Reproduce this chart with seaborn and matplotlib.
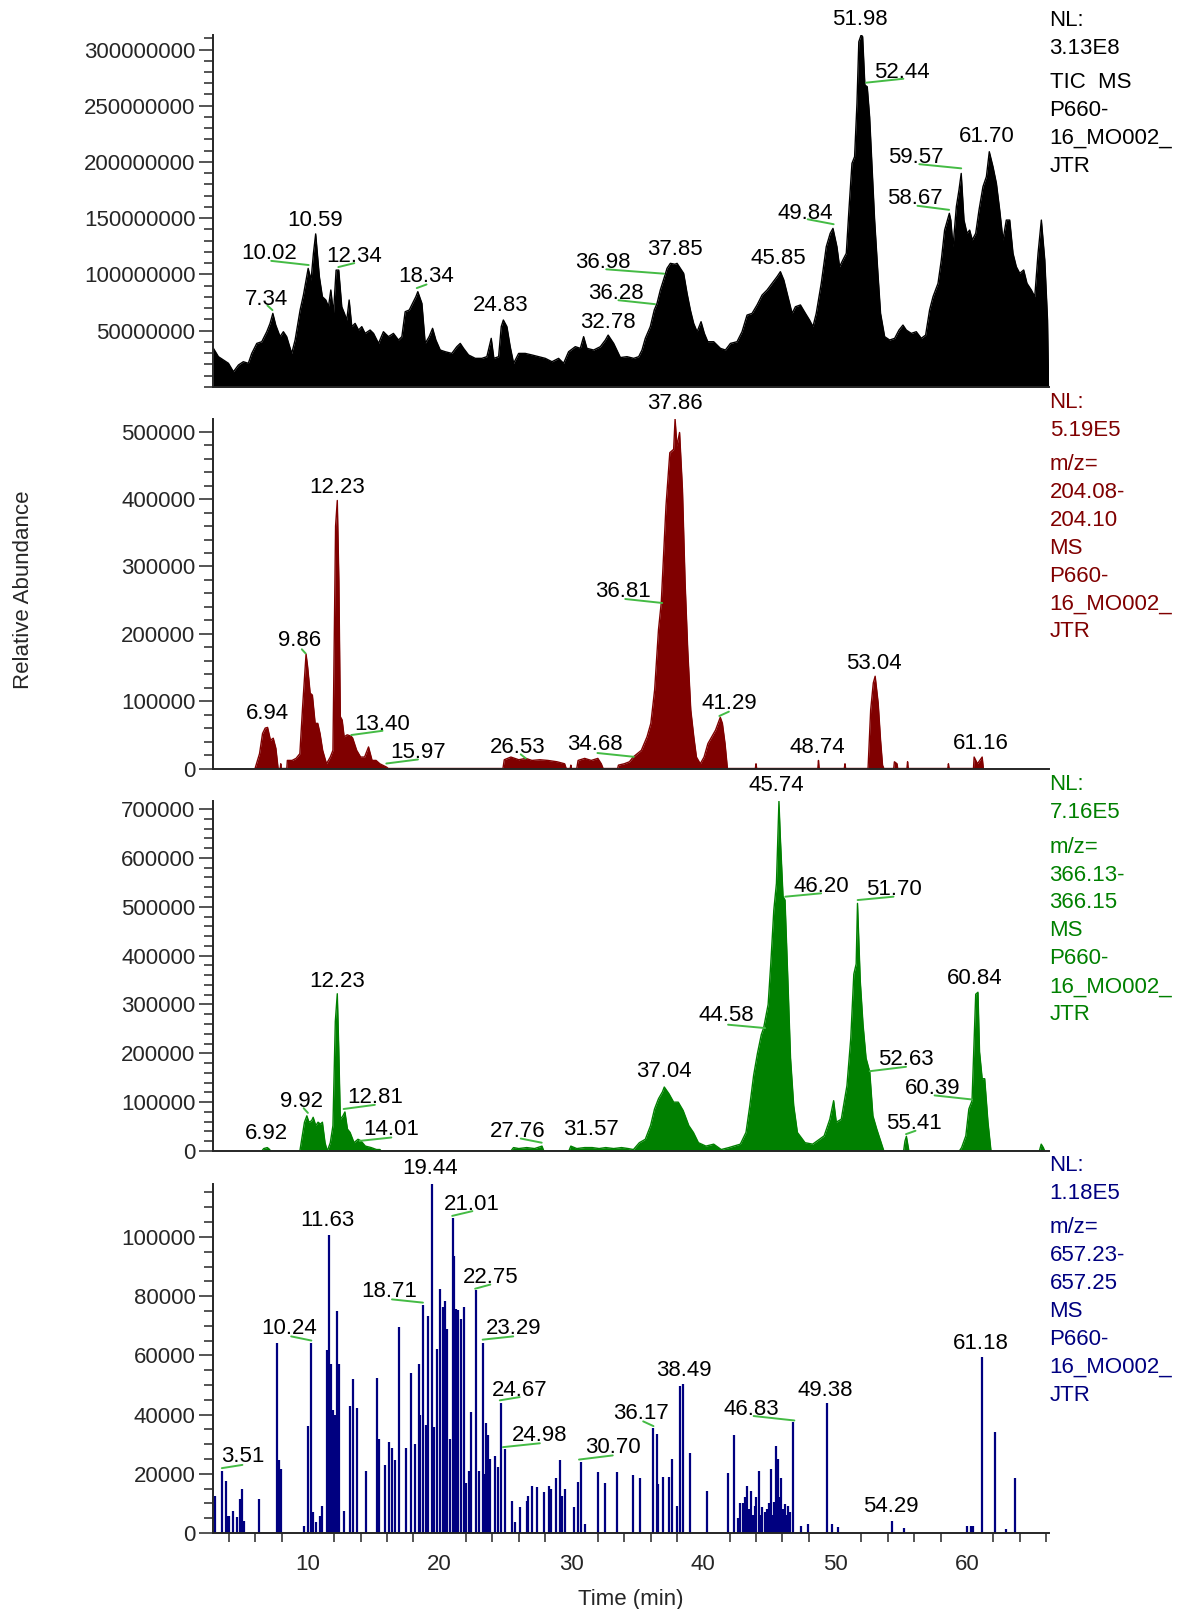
import matplotlib
matplotlib.use("Agg")
import numpy as np
import matplotlib.pyplot as plt
import matplotlib.transforms as mtransforms
import seaborn as sns
from matplotlib.ticker import MultipleLocator, FixedLocator, FuncFormatter

sns.set_style("ticks")
plt.rcParams['font.family'] = ['Liberation Sans', 'DejaVu Sans']

#%% datos leidos del cromatograma
# TIC (intensidad en millones)
tic_t = [2.83, 3.21, 3.59, 3.97, 4.35, 4.73, 5.10, 5.48, 5.74, 6.12, 6.50, 6.88, 7.13, 7.34, 7.56, 7.89,
         8.14, 8.39, 8.77, 9.03, 9.41, 9.66, 10.02, 10.24, 10.42, 10.59, 10.87, 11.10, 11.36, 11.56,
         11.74, 11.94, 12.14, 12.34, 12.57, 12.77, 12.95, 13.13, 13.33, 13.58, 13.84, 14.09, 14.34,
         14.72, 14.98, 15.36, 15.73, 16.11, 16.49, 16.87, 17.13, 17.38, 17.69, 17.94, 18.19, 18.34,
         18.65, 18.90, 19.20, 19.46, 19.71, 20.04, 20.42, 20.92, 21.30, 21.56, 21.81, 22.19, 22.70,
         23.20, 23.58, 23.91, 24.11, 24.47, 24.67, 24.83, 25.10, 25.35, 25.61, 25.99, 26.49, 27.00,
         27.50, 28.01, 28.52, 29.02, 29.40, 29.78, 30.29, 30.67, 30.92, 31.17, 31.68, 32.19, 32.57,
         32.78, 33.20, 33.71, 34.21, 34.72, 35.10, 35.35, 35.60, 35.98, 36.28, 36.49, 36.74, 36.98,
         37.25, 37.50, 37.85, 38.01, 38.26, 38.51, 38.77, 39.02, 39.27, 39.53, 39.83, 40.08, 40.34,
         40.79, 41.30, 41.68, 42.06, 42.56, 42.94, 43.32, 43.70, 44.08, 44.46, 44.84, 45.22, 45.60,
         45.85, 46.11, 46.36, 46.74, 46.99, 47.37, 47.75, 48.06, 48.32, 48.57, 48.95, 49.33, 49.63,
         49.84, 50.14, 50.34, 50.59, 50.85, 51.05, 51.28, 51.48, 51.66, 51.80, 51.98, 52.09, 52.26,
         52.44, 52.62, 52.79, 53.00, 53.25, 53.45, 53.76, 54.14, 54.52, 54.85, 55.15, 55.40, 55.78,
         56.16, 56.54, 56.87, 57.17, 57.43, 57.81, 58.06, 58.31, 58.67, 58.78, 58.95, 59.20, 59.40,
         59.57, 59.78, 60.01, 60.21, 60.41, 60.67, 60.92, 61.22, 61.48, 61.70, 61.98, 62.24, 62.49,
         62.74, 62.99, 63.25, 63.50, 63.75, 64.01, 64.31, 64.56, 64.89, 65.15, 65.40, 65.65, 65.91,
         66.12, 66.20]
tic_m = [34.2, 26.8, 23.8, 20.9, 13.4, 19.4, 22.3, 20.9, 29.7, 38.6, 40.1, 49, 56.4, 65.3, 54.9, 44.6,
         49, 44.6, 29.7, 41.6, 68.3, 81.6, 105.3, 95, 118.7, 136, 97.9, 80.1, 77.2, 71.2,
         86.1, 65.3, 103.8, 103.8, 71.2, 65.3, 59.4, 77.2, 53.5, 56.4, 50.5, 53.5, 47.5,
         50.5, 47.5, 38.6, 49, 44.6, 47.5, 41.6, 44.6, 66.8, 68.3, 74.2, 80.1, 84.6,
         74.2, 38.6, 44.6, 52, 41.6, 32.7, 31.2, 29.7, 35.7, 38.6, 34.2, 28.3, 25.3,
         25.3, 26.8, 43.1, 25.3, 26.8, 53.5, 59.4, 53.5, 35.7, 20.9, 29.7, 29.7, 28.3,
         26.8, 25.3, 22.3, 25.3, 20.9, 31.2, 35.7, 34.2, 44.6, 34.2, 32.7, 35.7, 41.6,
         46, 38.6, 26, 26.8, 25.3, 26.8, 32.7, 43.1, 53.5, 68.3, 74.2, 86.1, 95,
         105.4, 109.8, 109, 109.8, 105.4, 100.9, 83.1, 68.3, 56.4, 49, 57.9, 47.5, 40.1,
         40.1, 34.2, 32.7, 38.6, 40.1, 49, 63.8, 65.3, 72.8, 81.6, 86.1, 92, 98,
         102.4, 95, 83.1, 65.3, 71.2, 72.8, 65.3, 59.4, 53.5, 65.3, 92, 124.6, 136.5,
         140.9, 124.6, 106.8, 112.8, 118.7, 157.2, 198.7, 204.7, 252.1, 306.9, 313, 311.4, 268.4,
         266.9, 240.2, 198.7, 148.3, 100.9, 65.3, 44.6, 41.6, 43.1, 50.5, 54.9, 50.5, 47.5,
         49, 43.1, 46, 68.3, 80.1, 92, 112.8, 139.4, 154.3, 148.3, 124.6, 160.2, 175,
         189.8, 148.3, 136.5, 139.4, 130.6, 136.5, 157.2, 178, 186.9, 209.1, 195.8, 180.9, 157.2,
         130.6, 148.3, 148.3, 118.7, 106.8, 100.9, 103.9, 92, 86.1, 80.1, 118.7, 148.3, 112.8,
         59.4, 0]

# m/z 204.08-204.10 (intensidad en miles)
mz204_t = [5.99, 6.33, 6.56, 6.76, 6.94, 7.16, 7.37, 7.57, 7.74,
           7.90, 7.94, 7.98,
           8.40, 8.44, 8.80, 9.10, 9.39, 9.60, 9.86, 9.98, 10.17, 10.34, 10.55, 10.75, 10.92, 11.12,
           11.41, 11.70, 11.90, 12.10, 12.23, 12.35, 12.46, 12.60, 12.75, 12.98, 13.28, 13.40, 13.70,
           14.00, 14.30, 14.60, 14.87, 15.17, 15.46, 15.97, 16.10,
           24.80, 24.90, 25.40, 26.00, 26.53, 27.00, 27.60, 28.20, 28.90, 29.48, 29.60,
           29.90, 29.95, 30.00,
           30.40, 30.50, 31.00, 31.50, 32.00, 32.26, 32.40,
           33.50, 33.56, 34.00, 34.40, 34.68, 35.30, 35.73, 36.02, 36.31, 36.60, 36.81, 37.17, 37.46,
           37.75, 37.86, 38.00, 38.20, 38.42, 38.62, 38.82, 39.05, 39.28, 39.48, 39.77, 40.06, 40.35,
           40.64, 40.93, 41.29, 41.45, 41.65, 41.83,
           43.95, 44.00, 44.05,
           48.69, 48.74, 48.79,
           50.70, 50.75, 50.80,
           52.50, 52.70, 52.90, 53.04, 53.27, 53.45, 53.60, 53.70,
           54.45, 54.50, 54.70, 54.75,
           55.45, 55.50, 55.55,
           58.55, 58.60, 58.65,
           60.50, 60.55, 60.80, 61.16, 61.25]
mz204_k = [0, 22, 52, 60, 61, 42, 45, 30, 0,
           0, 7, 0,
           0, 12, 12, 15, 22, 92, 170, 151, 112, 109, 67, 67, 52, 27,
           7, 17, 27, 360, 398, 278, 77, 72, 47, 50, 48, 45, 27,
           17, 17, 32, 12, 12, 7, 2, 0,
           0, 13, 17, 13, 15, 12, 13, 12, 10, 7, 0,
           0, 5, 0,
           0, 12, 15, 12, 15, 7, 0,
           0, 5, 7, 10, 17, 27, 47, 67, 117, 206, 246, 390, 469,
           474, 519, 479, 499, 414, 276, 176, 87, 47, 17, 7, 17, 37,
           47, 57, 76, 67, 37, 0,
           0, 7, 0,
           0, 12, 0,
           0, 7, 0,
           0, 87, 127, 137, 97, 42, 5, 0,
           0, 10, 7, 0,
           0, 10, 0,
           0, 7, 0,
           0, 17, 7, 17, 0]

# m/z 366.13-366.15 (intensidad en miles)
mz366_t = [6.50, 6.65, 6.92, 7.10, 7.15,
           9.39, 9.53, 9.74, 9.92, 10.08, 10.28, 10.40, 10.60, 10.77, 10.95, 11.10, 11.30, 11.47,
           11.70, 11.90, 12.08, 12.23, 12.34, 12.46, 12.66, 12.81, 13.00, 13.20, 13.50, 13.80, 14.01,
           14.36, 14.80, 15.20, 15.47, 15.55,
           25.40, 25.60, 26.00, 26.60, 27.20, 27.76, 27.90,
           29.80, 29.95, 30.40, 31.00, 31.57, 32.10, 32.60, 33.20, 33.80, 34.30, 34.70, 35.15, 35.60,
           36.00, 36.30, 36.60, 36.90, 37.04, 37.40, 37.75, 38.10, 38.47, 38.90, 39.25, 39.63, 40.20,
           40.79, 41.36, 41.94, 42.81, 43.24, 43.53, 43.82, 44.11, 44.40, 44.58, 44.92, 45.12, 45.35,
           45.55, 45.74, 45.84, 46.05, 46.20, 46.42, 46.62, 46.86, 47.14, 47.72, 48.30, 49.17, 49.60,
           49.89, 50.09, 50.47, 50.90, 51.19, 51.42, 51.60, 51.70, 51.91, 52.12, 52.35, 52.63, 52.87,
           53.16, 53.50, 53.70,
           55.20, 55.30, 55.41, 55.60,
           59.43, 59.60, 59.92, 60.15, 60.39, 60.67, 60.84, 60.96, 61.16, 61.35, 61.60, 61.83,
           65.50, 65.64, 65.80, 65.90]
mz366_k = [0, 5, 7, 3, 0,
           0, 24, 59, 72, 59, 62, 69, 52, 59, 55, 59, 17, 0,
           17, 52, 265, 322, 210, 65, 72, 80, 45, 38, 17, 24, 21,
           10, 7, 3, 3, 0,
           0, 7, 5, 7, 5, 10, 0,
           0, 10, 5, 7, 7, 5, 7, 5, 7, 5, 3, 17, 24,
           52, 86, 107, 121, 131, 117, 100, 100, 83, 52, 38, 17, 10,
           14, 3, 7, 14, 38, 93, 155, 200, 238, 252, 300, 383, 493,
           548, 716, 645, 521, 514, 348, 190, 93, 38, 17, 14, 31, 65,
           103, 59, 65, 134, 231, 362, 383, 507, 348, 259, 190, 162, 72,
           45, 17, 0,
           0, 20, 30, 0,
           0, 7, 31, 86, 103, 321, 325, 203, 148, 148, 59, 0,
           0, 14, 7, 0]

# m/z 657.23-657.25 (intensidad en miles), picos tipo aguja
mz657_t = [2.97, 3.51, 3.75, 3.90, 4.05, 4.33, 4.62, 4.85, 5.00, 5.14, 6.30, 7.66, 7.80, 7.97,
           9.68, 9.97, 10.24, 10.40, 10.60, 10.92, 11.07, 11.45, 11.63, 11.78, 11.90, 12.02, 12.19,
           12.34, 12.72, 13.23, 13.44, 13.73, 14.39, 15.26, 15.40, 15.84, 16.18, 16.41, 16.64, 16.90,
           17.42, 17.86, 18.15, 18.41, 18.52, 18.71, 18.93, 19.13, 19.44, 19.59, 19.82, 20.00, 20.23,
           20.40, 20.58, 20.75, 21.01, 21.10, 21.24, 21.39, 21.65, 21.88, 22.02, 22.19, 22.40, 22.75,
           22.98, 23.29, 23.41, 23.50, 23.64, 23.81, 24.16, 24.42, 24.67, 24.98, 25.52, 25.75, 26.07,
           26.59, 26.73, 27.02, 27.40, 27.95, 28.26, 28.41, 28.84, 29.13, 29.27, 29.48, 30.20, 30.49,
           30.70, 31.05, 32.00, 32.55, 33.47, 34.66, 35.21, 36.17, 36.45, 36.60, 36.97, 37.38, 37.61,
           38.04, 38.27, 38.49, 38.99, 40.29, 41.88, 42.32, 42.60, 42.81, 43.00, 43.15, 43.33, 43.45,
           43.62, 43.75, 43.90, 44.00, 44.20, 44.35, 44.49, 44.65, 44.83, 44.95, 45.12, 45.25, 45.35,
           45.55, 45.70, 45.85, 45.93, 46.05, 46.22, 46.30, 46.42, 46.60, 46.83, 47.40, 47.95, 49.38,
           49.80, 50.20, 54.29, 55.20, 60.00, 60.30, 60.50, 61.18, 62.17, 62.95, 63.68]
mz657_k = [12.6, 21, 17.4, 5.9, 5.9, 7.5, 5.3, 11.5, 14.9, 4.2, 11.5, 64.3, 24.5, 21.6,
           2.5, 36, 64.3, 7, 3.6, 5.9, 9.2, 61.9, 100.8, 57.2, 41.4, 39.7, 75,
           57.2, 7.5, 43, 51.9, 42.2, 21, 52.3, 31.8, 23, 30.7, 28.7, 24.5, 69.6,
           28.7, 54, 30.1, 57.2, 39.7, 77.1, 36.5, 73.3, 118, 35.7, 62, 82.3, 76.3,
           78.2, 69, 31.8, 106.4, 93.6, 75.8, 75.2, 72.4, 76.3, 16.8, 21, 40.8, 82,
           21, 64.3, 20, 37.2, 33.1, 25, 25.9, 22.2, 44, 28.2, 10.9, 3.6, 8.7,
           10.9, 12.6, 16, 15.4, 13.8, 16, 14.9, 18.5, 24.5, 12.6, 14.9, 8.7, 17.1,
           23.9, 3, 20.7, 16.8, 20.7, 19.6, 18.5, 35.4, 33.5, 16.6, 19, 19, 25,
           9.2, 49.8, 50.4, 27, 14.3, 20.3, 33.1, 5, 10.1, 10, 12, 16, 8,
           14.3, 6, 9, 12, 21, 6, 8.7, 7, 8.1, 10, 21.6, 6, 10.4,
           29.5, 25, 12, 18.5, 8, 9.8, 6, 9.2, 7, 37.4, 2.3, 3, 44,
           3, 1.9, 4.2, 1.6, 2.5, 2.5, 2.5, 59.4, 34, 1.4, 18.5]

# etiquetas de picos (tiempo de retencion) por panel
tic_labels = ["7.34", "10.02", "10.59", "12.34", "18.34", "24.83", "32.78", "36.28", "36.98",
              "37.85", "45.85", "49.84", "51.98", "52.44", "58.67", "59.57", "61.70"]
mz204_labels = ["6.94", "9.86", "12.23", "13.40", "15.97", "26.53", "34.68", "36.81", "37.86",
                "41.29", "48.74", "53.04", "61.16"]
mz366_labels = ["6.92", "9.92", "12.23", "12.81", "14.01", "27.76", "31.57", "37.04", "44.58",
                "45.74", "46.20", "51.70", "52.63", "55.41", "60.39", "60.84"]
mz657_labels = ["3.51", "10.24", "11.63", "18.71", "19.44", "21.01", "22.75", "23.29", "24.67",
                "24.98", "30.70", "36.17", "38.49", "46.83", "49.38", "54.29", "61.18"]

# texto a la derecha de cada panel
tic_info = ["NL:", "3.13E8", "TIC  MS", "P660-", "16_MO002_", "JTR"]
mz204_info = ["NL:", "5.19E5", "m/z=", "204.08-", "204.10", "MS", "P660-", "16_MO002_", "JTR"]
mz366_info = ["NL:", "7.16E5", "m/z=", "366.13-", "366.15", "MS", "P660-", "16_MO002_", "JTR"]
mz657_info = ["NL:", "1.18E5", "m/z=", "657.23-", "657.25", "MS", "P660-", "16_MO002_", "JTR"]

#%% posiciones de las etiquetas (texto x, texto y, linea guia)
tic_pos = [(6.85, 80.7, (6.93, 72.3, 7.31, 68.2)), (7.08, 121, (7.22, 112, 10.06, 108.3)),
           (10.58, 151, None), (13.5, 119, (12.31, 106.5, 13.52, 110)),
           (19.0, 100.6, (18.26, 87.8, 19.0, 91)), (24.62, 74.7, None), (32.74, 60, None),
           (33.4, 86, (33.56, 77, 36.34, 73.5)), (32.4, 113, (32.64, 104.5, 37.03, 100.6)),
           (37.84, 125, None), (45.7, 117, None), (47.72, 157, (47.92, 149, 49.89, 144.6)),
           (51.91, 329, None), (55.09, 282, (52.35, 270.5, 55.18, 274)),
           (56.05, 170, (56.25, 161, 58.65, 157.4)), (56.16, 207, (56.39, 198, 59.57, 194.3)),
           (61.54, 225.6, None)]
mz204_pos = [(6.93, 86, None), (9.39, 194, (9.54, 177, 9.82, 171)), (12.19, 422, None),
             (15.66, 69.5, (13.29, 49.7, 15.66, 56)), (18.35, 28, (15.95, 7.4, 18.35, 13.4)),
             (25.95, 36, (26.15, 21, 26.53, 15)), (31.74, 39.6, (31.97, 23, 34.72, 17.4)),
             (33.91, 266.6, (34.08, 251.7, 36.88, 245.8)), (37.84, 546, None),
             (41.94, 100.8, (41.22, 78, 41.94, 84.4)), (48.65, 36, None), (52.98, 161, None),
             (61.02, 42, None)]
mz366_pos = [(6.85, 41, None), (9.53, 108, (9.68, 87.6, 10.0, 78)), (12.19, 354, None),
             (15.08, 115, (12.71, 86, 15.08, 94.5)), (16.33, 50, (13.93, 20.7, 16.33, 27.6)),
             (25.95, 46, (26.15, 25.5, 27.74, 17)), (31.5, 50, None), (37.03, 169, None),
             (41.71, 282.8, (41.88, 258.6, 44.69, 251.7)), (45.55, 755, None),
             (48.94, 548, (46.22, 520.7, 48.94, 527.6)), (54.43, 541, (51.71, 513.8, 54.43, 520.7)),
             (55.38, 193, (52.63, 163.4, 55.38, 172.4)), (55.99, 63.4, (55.38, 34.5, 56.1, 41.4)),
             (57.4, 134.5, (57.55, 113.8, 60.38, 105.5)), (60.58, 358.6, None)]
mz657_pos = [(5.08, 26.7, (3.47, 21.9, 5.03, 23)), (8.58, 70, (8.73, 66.4, 10.26, 65)),
             (11.5, 106.4, None), (16.18, 82.5, (16.38, 78.9, 18.73, 77.8)), (19.3, 124, None),
             (22.45, 111.8, (20.95, 107.1, 22.48, 108.7)), (23.84, 87.3, (22.69, 82.5, 23.84, 83.9)),
             (25.58, 70, (23.26, 65.3, 25.58, 66.4)), (26.07, 49.3, (24.56, 44.8, 26.07, 45.9)),
             (27.6, 33.8, (24.8, 29, 27.6, 30.3)), (33.13, 29.8, (30.57, 24.8, 33.13, 26.2)),
             (35.29, 41.4, (35.44, 37.7, 36.22, 36.1)), (38.53, 56, None),
             (43.62, 42.8, (43.82, 39.5, 46.91, 38)), (49.22, 49.3, None), (54.23, 9.8, None),
             (61.02, 65, None)]

#%% figura
W, H = 1181, 1609
fig = plt.figure(figsize=(W / 100, H / 100), dpi=100)
FS = 16
LEADER = '#44bb44'

# (arriba, abajo) de cada panel en pixeles
paneles = [(34.9, 386.8), (419.0, 768.5), (801.3, 1151.0), (1183.6, 1533.0)]
izq, der = 213.4, 1048.6

def nuevo_panel(top, bottom):
    return fig.add_axes([izq / W, 1 - bottom / H, (der - izq) / W, (bottom - top) / H])

def estilo(ax, nl, mayores, menor, escala):
    ax.set_xlim(2.83, 66.2)
    ax.set_ylim(0, nl)
    for s in ['top', 'right']:
        ax.spines[s].set_visible(False)
    for s in ['left', 'bottom']:
        ax.spines[s].set_linewidth(1.4)
    ax.yaxis.set_major_locator(FixedLocator(mayores))
    ax.yaxis.set_minor_locator(MultipleLocator(menor))
    ax.yaxis.set_major_formatter(FuncFormatter(lambda v, p: "{:d}".format(int(round(v * escala)))))
    ax.tick_params(axis='y', which='major', length=10.4, width=1.1, pad=2.5, labelsize=FS, direction='out')
    ax.tick_params(axis='y', which='minor', length=6.3, width=1.1, direction='out')
    ax.tick_params(axis='x', which='both', bottom=False, labelbottom=False)

def etiquetas(ax, textos, pos):
    # el texto se baja unos pixeles para que el centro visual de los digitos coincida
    trans = mtransforms.offset_copy(ax.transData, fig=fig, y=-3, units='dots')
    for txt, (xt, yt, guia) in zip(textos, pos):
        ax.text(xt, yt, txt, ha='center', va='center', fontsize=FS, color='black',
                clip_on=False, transform=trans)
        if guia is not None:
            ax.plot([guia[0], guia[2]], [guia[1], guia[3]], color=LEADER, lw=1.4, clip_on=False)

def info(lineas, y0, color):
    y = y0 + 3
    for i, s in enumerate(lineas):
        fig.text(1049.6 / W, 1 - y / H, s, ha='left', va='center', fontsize=FS, color=color)
        y += 34.5 if i == 1 else 27.9

def relleno(ax, t, v, color):
    ax.fill_between(t, 0, v, color=color, lw=0)
    sns.lineplot(x=t, y=v, ax=ax, color=color, lw=1.0, sort=False, estimator=None)

# Panel 1: TIC
ax1 = nuevo_panel(*paneles[0])
relleno(ax1, tic_t, tic_m, 'black')
estilo(ax1, 313, [50, 100, 150, 200, 250, 300], 10, 1e6)
etiquetas(ax1, tic_labels, tic_pos)
info(tic_info, 17.4, 'black')

# Panel 2: m/z 204
ax2 = nuevo_panel(*paneles[1])
relleno(ax2, mz204_t, mz204_k, '#800000')
estilo(ax2, 519, [0, 100, 200, 300, 400, 500], 20, 1e3)
etiquetas(ax2, mz204_labels, mz204_pos)
info(mz204_info, 399.1, '#800000')

# Panel 3: m/z 366
ax3 = nuevo_panel(*paneles[2])
relleno(ax3, mz366_t, mz366_k, '#008000')
estilo(ax3, 716, [0, 100, 200, 300, 400, 500, 600, 700], 20, 1e3)
etiquetas(ax3, mz366_labels, mz366_pos)
info(mz366_info, 781.8, '#008000')

# Panel 4: m/z 657
ax4 = nuevo_panel(*paneles[3])
ax4.vlines(mz657_t, 0, mz657_k, color='#000080', lw=1.6)
estilo(ax4, 118, [0, 20, 40, 60, 80, 100], 5, 1e3)
etiquetas(ax4, mz657_labels, mz657_pos)
info(mz657_info, 1162.5, '#000080')

# eje de tiempo: marcas cada 2 min, sin marca bajo los valores rotulados
ax4.xaxis.set_major_locator(FixedLocator([10, 20, 30, 40, 50, 60]))
ax4.xaxis.set_minor_locator(FixedLocator([m for m in range(4, 67, 2) if m % 10 != 0]))
ax4.tick_params(axis='x', which='major', bottom=True, labelbottom=True, length=0,
                pad=15, labelsize=FS)
ax4.tick_params(axis='x', which='minor', bottom=True, length=6.5, width=1.1, direction='out')

fig.text(23.5 / W, 1 - 590 / H, 'Relative Abundance', rotation=90, ha='center', va='center', fontsize=FS)
fig.text(631 / W, 1 - 1599 / H, 'Time (min)', ha='center', va='center', fontsize=FS)

fig.savefig('out.png', dpi=100)
